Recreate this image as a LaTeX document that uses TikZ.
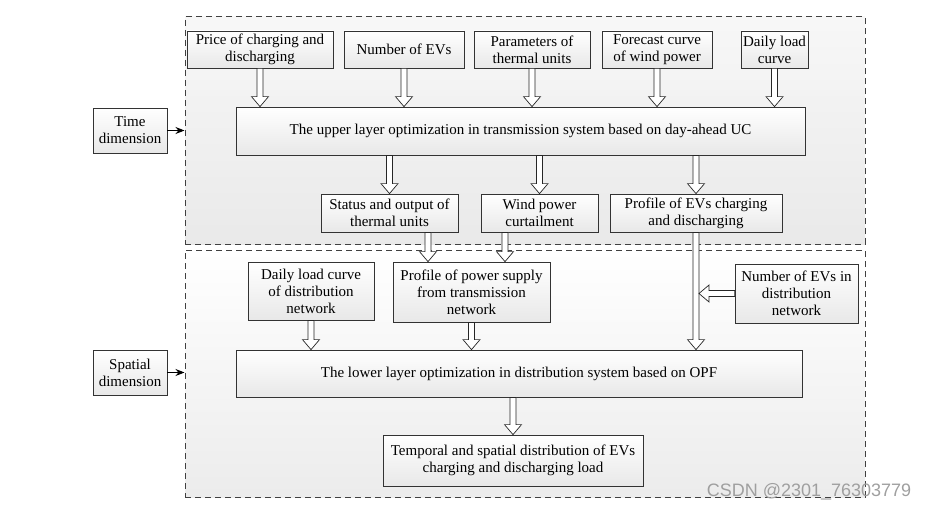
\documentclass[tikz,border=0pt]{standalone}
\usepackage{fontspec}
\setmainfont{Liberation Serif}
\setsansfont{Liberation Sans}
\usetikzlibrary{calc,shadows,arrows.meta}
\begin{document}
\begin{tikzpicture}[x=1pt,y=-1pt,
	box/.style={draw=black!80, line width=0.8pt, top color=white, bottom color=gray!18,
		align=center, inner sep=1pt, font=\fontsize{15}{17}\selectfont,
		drop shadow={shadow xshift=1.2pt, shadow yshift=-1.2pt, opacity=0.35}},
	frame/.style={draw=black!75, dash pattern=on 6pt off 4pt, line width=1pt, inner sep=0pt},
	hollow/.style={draw=black!85, fill=white, line width=0.7pt, to path={
		let \p1=(\tikztostart), \p2=(\tikztotarget),
		\n1={atan2(\y2-\y1,\x2-\x1)}, \n2={veclen(\x2-\x1,\y2-\y1)-10pt} in
		($(\p1)+({\n1+90}:3pt)$) -- ($(\p1)+(\n1:\n2)+({\n1+90}:3pt)$)
		-- ($(\p1)+(\n1:\n2)+({\n1+90}:8.5pt)$) -- (\p2)
		-- ($(\p1)+(\n1:\n2)+({\n1-90}:8.5pt)$) -- ($(\p1)+(\n1:\n2)+({\n1-90}:3pt)$)
		-- ($(\p1)+({\n1-90}:3pt)$) -- cycle}}]
	\useasboundingbox (0,0) rectangle (931,511);
	
	% dashed layers
	\node[frame, top color=gray!6, bottom color=gray!17, minimum width=680pt, minimum height=227pt] (upframe) at (525,130.5) {};
	\node[frame, top color=white, bottom color=gray!15, minimum width=680pt, minimum height=247pt] (lowframe) at (525,373.5) {};
	
	% upper layer
	\node[box, minimum width=146pt, minimum height=37pt] (price) at (260,49.5) {Price of charging and\\discharging};
	\node[box, minimum width=120pt, minimum height=37pt] (nevs) at (404,49.5) {Number of EVs};
	\node[box, minimum width=116pt, minimum height=37pt] (therm) at (532,49.5) {Parameters of\\thermal units};
	\node[box, minimum width=110pt, minimum height=37pt] (wind) at (657,49.5) {Forecast curve\\of wind power};
	\node[box, minimum width=67pt, minimum height=37pt] (dload) at (774.5,49.5) {Daily load\\curve};
	\node[box, minimum width=569pt, minimum height=48pt] (upper) at (520.5,131) {The upper layer optimization in transmission system based on day-ahead UC};
	\node[box, minimum width=74pt, minimum height=45pt] (time) at (130,130.5) {Time\\dimension};
	\node[box, minimum width=137pt, minimum height=38pt] (status) at (389.5,213) {Status and output of\\thermal units};
	\node[box, minimum width=117pt, minimum height=38pt] (curtail) at (539.5,213) {Wind power\\curtailment};
	\node[box, minimum width=172pt, minimum height=38pt] (profev) at (696,213) {Profile of EVs charging\\and discharging};
	
	% lower layer
	\node[box, minimum width=126pt, minimum height=58pt] (dloaddist) at (311,291) {Daily load curve\\of distribution\\network};
	\node[box, minimum width=157pt, minimum height=60pt] (supply) at (471.5,292) {Profile of power supply\\from transmission\\network};
	\node[box, minimum width=123pt, minimum height=59pt] (evdist) at (796.5,293.5) {Number of EVs in\\distribution\\network};
	\node[box, minimum width=566pt, minimum height=47pt] (lower) at (519,373.5) {The lower layer optimization in distribution system based on OPF};
	\node[box, minimum width=74pt, minimum height=45pt] (spatial) at (130,372.5) {Spatial\\dimension};
	\node[box, minimum width=260pt, minimum height=51pt] (temporal) at (513,460.5) {Temporal and spatial distribution of EVs\\charging and discharging load};
	
	\coordinate (s1) at ($(status.south)+(38.5pt,0)$);
	\coordinate (w1) at ($(curtail.south)+(-34.5pt,0)$);
	\coordinate (evhit) at ($(profev.south |- evdist.west)+(3pt,0)$);
	
	% arrows
	\foreach \b in {price,nevs,therm,wind,dload}
		\draw[hollow] (\b.south) to (\b.south |- upper.north);
	\foreach \b in {status,curtail}
		\draw[hollow] (\b.north |- upper.south) to (\b.north);
	\draw[hollow] (profev.north |- upper.south) to (profev.north);
	\draw[hollow] (s1) to (s1 |- supply.north);
	\draw[hollow] (w1) to (w1 |- supply.north);
	\draw[hollow] (profev.south) to (profev.south |- lower.north);
	\draw[hollow] (evdist.west) to (evhit);
	\draw[hollow] (dloaddist.south) to (dloaddist.south |- lower.north);
	\draw[hollow] (supply.south) to (supply.south |- lower.north);
	\draw[hollow] (temporal.north |- lower.south) to (temporal.north);
	
	\draw[-{Stealth[length=9pt,width=7pt]}, line width=0.9pt] (time.east) -- (time.east -| upframe.west);
	\draw[-{Stealth[length=9pt,width=7pt]}, line width=0.9pt] (spatial.east) -- (spatial.east -| lowframe.west);
	
	\node[font=\sffamily\fontsize{18}{18}\selectfont, text=gray!75] (mark) at (809,492) {CSDN @2301\_76303779};
\end{tikzpicture}
\end{document}
